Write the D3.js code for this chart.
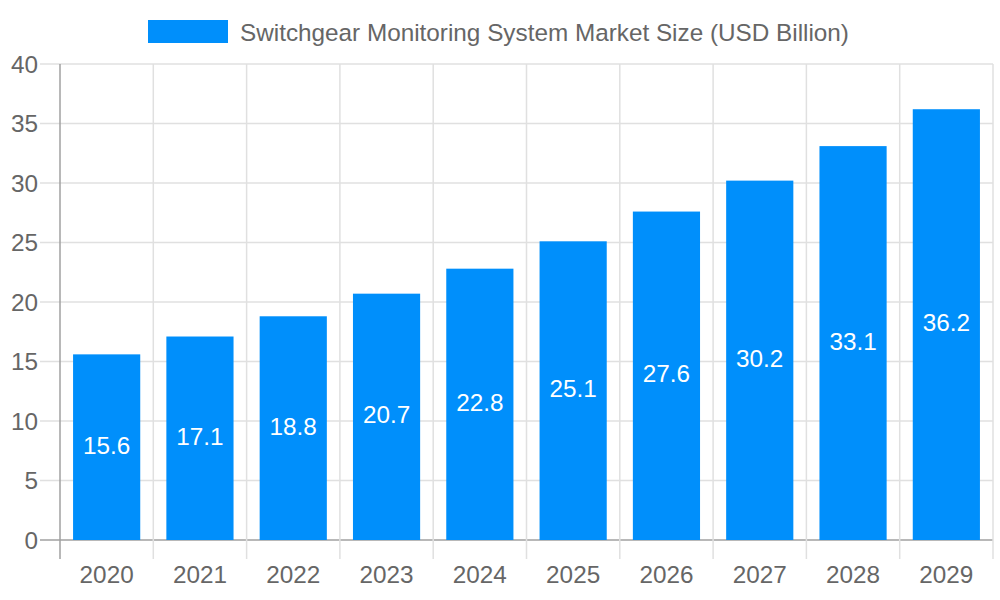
<!DOCTYPE html>
<html>
<head>
<meta charset="utf-8">
<script src="https://cdn.jsdelivr.net/npm/d3@7"></script>
<style>
  body { margin: 0; background: #fff; }
  svg text { font-family: "Liberation Sans", Arial, sans-serif; }
</style>
</head>
<body>
<svg id="chart" width="1000" height="600"></svg>
<script>
const years = ['2020', '2021', '2022', '2023', '2024', '2025', '2026', '2027', '2028', '2029']
const marketSize = [15.6, 17.1, 18.8, 20.7, 22.8, 25.1, 27.6, 30.2, 33.1, 36.2]
const yTicks = [0, 5, 10, 15, 20, 25, 30, 35, 40]
const seriesName = 'Switchgear Monitoring System Market Size (USD Billion)'

const plotLeft = 60, plotRight = 993, plotTop = 64, plotBottom = 540
const barColor = '#008ffb'
const fontSize = 24.3

const svg = d3.select('#chart')

const x = d3.scaleBand().domain(years).range([plotLeft, plotRight])
const y = d3.scaleLinear().domain([0, 40]).range([plotBottom, plotTop])

// gridlines
svg.append('g').selectAll('line')
    .data(yTicks)
    .enter().append('line')
    .attr('x1', 40).attr('x2', plotRight)
    .attr('y1', d => y(d)).attr('y2', d => y(d))
    .attr('stroke', d => d === 0 ? '#a0a0a0' : '#e0e0e0')
    .attr('stroke-width', 1.5)

const vlines = [...years.map(d => x(d)), plotRight]
svg.append('g').selectAll('line')
    .data(vlines)
    .enter().append('line')
    .attr('x1', d => d).attr('x2', d => d)
    .attr('y1', plotTop).attr('y2', plotBottom + 19)
    .attr('stroke', (d, i) => i === 0 ? '#a0a0a0' : '#e0e0e0')
    .attr('stroke-width', 1.5)

// y labels
svg.append('g').selectAll('text')
    .data(yTicks)
    .enter().append('text')
    .attr('x', 38)
    .attr('y', d => y(d))
    .attr('dy', '0.35em')
    .attr('text-anchor', 'end')
    .attr('fill', '#666')
    .attr('font-size', fontSize)
    .text(d => d)

// x labels
svg.append('g').selectAll('text')
    .data(years)
    .enter().append('text')
    .attr('x', d => x(d) + x.bandwidth() / 2)
    .attr('y', 574)
    .attr('dy', '0.35em')
    .attr('text-anchor', 'middle')
    .attr('fill', '#666')
    .attr('font-size', fontSize)
    .text(d => d)

// bars
const bw = x.bandwidth() * 0.72
const bars = svg.append('g').selectAll('g')
    .data(years.map((d, i) => ({ year: d, v: marketSize[i] })))
    .enter().append('g')

bars.append('rect')
    .attr('x', d => x(d.year) + (x.bandwidth() - bw) / 2)
    .attr('y', d => y(d.v))
    .attr('width', bw)
    .attr('height', d => y(0) - y(d.v))
    .attr('fill', barColor)

bars.append('text')
    .attr('x', d => x(d.year) + x.bandwidth() / 2)
    .attr('y', d => (y(d.v) + y(0)) / 2 - 2)
    .attr('dy', '0.35em')
    .attr('text-anchor', 'middle')
    .attr('fill', '#fff')
    .attr('font-size', fontSize)
    .text(d => d.v)

// legend
svg.append('rect')
    .attr('x', 148).attr('y', 20)
    .attr('width', 80).attr('height', 23)
    .attr('fill', barColor)
svg.append('text')
    .attr('x', 240).attr('y', 32)
    .attr('dy', '0.35em')
    .attr('fill', '#666')
    .attr('font-size', fontSize)
    .text(seriesName)
</script>
</body>
</html>
